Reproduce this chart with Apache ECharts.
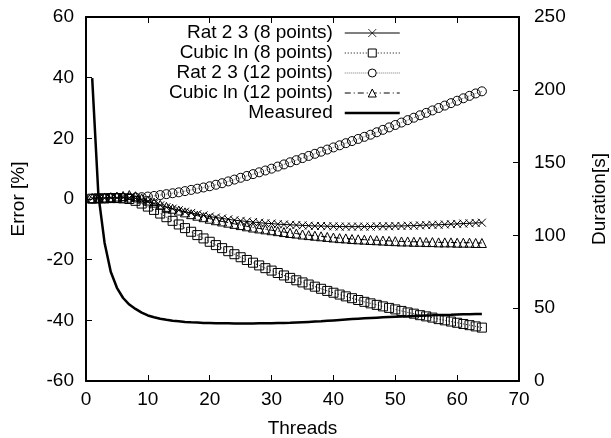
<!DOCTYPE html>
<html>
<head>
<meta charset="utf-8">
<script src="https://cdn.jsdelivr.net/npm/echarts@6/dist/echarts.min.js"></script>
<style>
  html, body { margin: 0; padding: 0; background: #fff; }
  #chart { width: 611px; height: 438px; }
</style>
</head>
<body>
<div id="chart"></div>
<script>
// thread counts 1..64
const threads = [];
for (let i = 1; i <= 64; i++) threads.push(i);

// error [%]
const rat8 = [0.2, 0.3, 0.3, 0.4, 0.4, 0.5, 0.4, 0.2, -0.3, -0.9, -1.5, -2.1, -2.7, -3.2, -3.7, -4.2,
  -4.6, -5.0, -5.4, -5.8, -6.1, -6.4, -6.7, -7.0, -7.2, -7.4, -7.6, -7.8, -8.0, -8.1, -8.3, -8.4,
  -8.5, -8.6, -8.7, -8.8, -8.9, -8.9, -9.0, -9.0, -9.1, -9.1, -9.1, -9.1, -9.1, -9.1, -9.0, -9.0,
  -9.0, -8.9, -8.9, -8.8, -8.8, -8.7, -8.6, -8.5, -8.5, -8.4, -8.3, -8.2, -8.1, -8.0, -7.9, -7.8];
const cubic8 = [0.1, 0.2, 0.2, 0.3, 0.3, 0.2, 0.0, -0.6, -1.5, -2.5, -3.6, -4.8, -6.0, -7.2, -8.4, -9.6,
  -10.8, -11.9, -13.0, -14.1, -15.2, -16.2, -17.2, -18.2, -19.2, -20.1, -21.0, -21.9, -22.8, -23.6, -24.4, -25.2,
  -26.0, -26.8, -27.5, -28.2, -28.9, -29.6, -30.3, -30.9, -31.5, -32.1, -32.7, -33.3, -33.9, -34.4, -34.9, -35.4,
  -35.9, -36.4, -36.9, -37.4, -37.8, -38.3, -38.7, -39.1, -39.6, -40.0, -40.4, -40.8, -41.2, -41.6, -42.0, -42.4];
const rat12 = [0.1, 0.2, 0.2, 0.3, 0.3, 0.4, 0.4, 0.5, 0.6, 0.8, 1.0, 1.3, 1.6, 1.9, 2.2, 2.6,
  3.0, 3.4, 3.8, 4.2, 4.7, 5.2, 5.8, 6.4, 7.0, 7.6, 8.2, 8.8, 9.4, 10.0, 10.7, 11.4,
  12.1, 12.8, 13.5, 14.2, 14.9, 15.6, 16.3, 17.0, 17.7, 18.4, 19.1, 19.8, 20.5, 21.2, 22.0, 22.8,
  23.6, 24.4, 25.2, 26.0, 26.8, 27.6, 28.4, 29.2, 30.0, 30.8, 31.6, 32.4, 33.2, 34.0, 34.8, 35.5];
const cubic12 = [0.3, 0.4, 0.5, 0.6, 0.8, 1.0, 1.3, 0.9, 0.2, -0.5, -1.2, -1.9, -2.6, -3.2, -3.8, -4.4,
  -5.0, -5.5, -6.0, -6.5, -7.0, -7.4, -7.8, -8.2, -8.6, -9.0, -9.4, -9.7, -10.0, -10.3, -10.6, -10.9,
  -11.2, -11.4, -11.7, -11.9, -12.1, -12.3, -12.5, -12.7, -12.9, -13.0, -13.2, -13.3, -13.4, -13.5, -13.6, -13.7,
  -13.8, -13.9, -14.0, -14.0, -14.1, -14.1, -14.2, -14.2, -14.3, -14.3, -14.3, -14.4, -14.4, -14.4, -14.5, -14.5];

// duration [s]
const measured = [208, 128, 95, 75, 64, 57, 52.5, 49.5, 47, 45, 43.8, 42.8, 42, 41.4, 41, 40.6,
  40.3, 40.1, 39.9, 39.8, 39.7, 39.6, 39.6, 39.5, 39.5, 39.5, 39.5, 39.6, 39.6, 39.7, 39.8, 39.9,
  40.0, 40.2, 40.4, 40.6, 40.8, 41.0, 41.3, 41.6, 41.9, 42.2, 42.5, 42.8, 43.1, 43.3, 43.5, 43.7,
  43.9, 44.1, 44.3, 44.4, 44.6, 44.8, 45.0, 45.1, 45.3, 45.4, 45.5, 45.7, 45.8, 45.9, 46.0, 46.1];

const FONT = "'Liberation Sans', Arial, sans-serif";
const crossPath = "path://M0,0L10,10M10,0L0,10";

function pairs(vals) {
  return threads.map((t, i) => [t, vals[i]]);
}

const hollow = { color: "transparent", borderColor: "#000", borderWidth: 1 };
const legendHollow = { color: "#fff", borderColor: "#000", borderWidth: 1 };

const chart = echarts.init(document.getElementById("chart"));
const tickStyle = { inside: true, length: 6, lineStyle: { color: "#000", width: 1 } };
const label = { color: "#000", fontSize: 19, fontFamily: FONT };
const frameLine = { show: true, onZero: false, lineStyle: { color: "#000", width: 2 } };

chart.setOption({
  animation: false,
  textStyle: { fontFamily: FONT },
  grid: { left: 86, right: 92, top: 17, bottom: 57, outerBoundsMode: "none" },
  legend: {
    orient: "vertical",
    align: "right",
    right: 205,
    top: 18,
    itemWidth: 55,
    itemHeight: 10,
    itemGap: 0,
    textStyle: { color: "#000", fontSize: 19, fontFamily: FONT, lineHeight: 20, padding: [0, 7, 0, 0] },
    data: [
      {
        name: "Rat 2 3 (8 points)",
        itemStyle: { color: "#000", borderColor: "#000", borderWidth: 0.8 },
        lineStyle: { color: "#000", width: 1, type: "solid" },
      },
      { name: "Cubic ln (8 points)", itemStyle: legendHollow, lineStyle: { color: "#000", width: 1, type: [1, 2] } },
      { name: "Rat 2 3 (12 points)", itemStyle: legendHollow, lineStyle: { color: "#777", width: 1, type: [1, 1] } },
      { name: "Cubic ln (12 points)", itemStyle: legendHollow, lineStyle: { color: "#000", width: 1, type: [6, 3, 1, 3] } },
      {
        name: "Measured",
        itemStyle: { color: "transparent", borderColor: "transparent", borderWidth: 0 },
        lineStyle: { color: "#000", width: 2.5, type: "solid" },
      },
    ],
  },
  xAxis: [
    {
      type: "value",
      min: 0,
      max: 70,
      interval: 10,
      name: "Threads",
      nameLocation: "middle",
      nameGap: 38,
      nameTextStyle: label,
      axisLine: frameLine,
      axisTick: tickStyle,
      axisLabel: Object.assign({ margin: 9 }, label),
      splitLine: { show: false },
    },
    {
      type: "value",
      position: "top",
      min: 0,
      max: 70,
      interval: 10,
      axisLine: frameLine,
      axisTick: tickStyle,
      axisLabel: { show: false },
      splitLine: { show: false },
    },
  ],
  yAxis: [
    {
      type: "value",
      min: -60,
      max: 60,
      interval: 20,
      name: "Error [%]",
      nameLocation: "middle",
      nameRotate: 90,
      nameGap: 58,
      nameTextStyle: label,
      axisLine: frameLine,
      axisTick: tickStyle,
      axisLabel: Object.assign({ margin: 12 }, label),
      splitLine: { show: false },
    },
    {
      type: "value",
      position: "right",
      min: 0,
      max: 250,
      interval: 50,
      name: "Duration[s]",
      nameLocation: "middle",
      nameRotate: 90,
      nameGap: 71,
      nameTextStyle: label,
      axisLine: frameLine,
      axisTick: tickStyle,
      axisLabel: Object.assign({ margin: 15 }, label),
      splitLine: { show: false },
    },
  ],
  series: [
    {
      name: "Rat 2 3 (8 points)",
      type: "line",
      data: pairs(rat8),
      symbol: crossPath,
      symbolSize: 8,
      lineStyle: { color: "#000", width: 1 },
      itemStyle: { color: "#000", borderColor: "#000", borderWidth: 1 },
    },
    {
      name: "Cubic ln (8 points)",
      type: "line",
      data: pairs(cubic8),
      symbol: "rect",
      symbolSize: 9,
      lineStyle: { color: "#000", width: 1, type: [1, 2] },
      itemStyle: hollow,
    },
    {
      name: "Rat 2 3 (12 points)",
      type: "line",
      data: pairs(rat12),
      symbol: "circle",
      symbolSize: 9,
      lineStyle: { color: "#777", width: 1, type: [1, 1] },
      itemStyle: hollow,
    },
    {
      name: "Cubic ln (12 points)",
      type: "line",
      data: pairs(cubic12),
      symbol: "triangle",
      symbolSize: 9,
      lineStyle: { color: "#000", width: 1, type: [6, 3, 1, 3] },
      itemStyle: hollow,
    },
    {
      name: "Measured",
      type: "line",
      yAxisIndex: 1,
      data: pairs(measured),
      symbol: "none",
      lineStyle: { color: "#000", width: 2.5 },
      itemStyle: { color: "#000" },
    },
  ],
});
</script>
</body>
</html>
